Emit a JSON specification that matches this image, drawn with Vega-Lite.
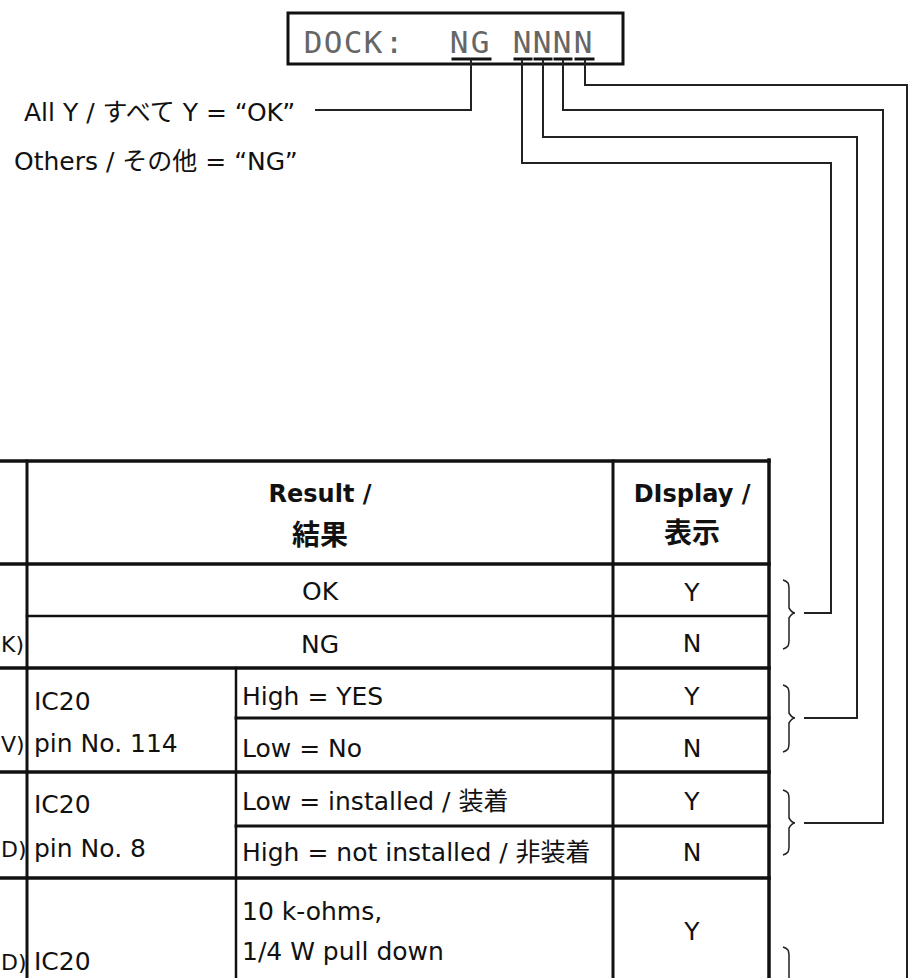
{
  "$schema": "https://vega.github.io/schema/vega-lite/v6.json",
  "width": 909,
  "height": 978,
  "autosize": "none",
  "padding": 0,
  "background": "white",
  "config": {"view": {"stroke": null}},
  "datasets": {
    "texts": [
      {"g": "top", "x": 24, "y": 121, "t": "All Y / すべて Y = “OK”"},
      {"g": "top", "x": 14, "y": 170, "t": "Others / その他 = “NG”"},
      {"g": "lcd", "x": 313, "y": 53, "t": "D"},
      {"g": "lcd", "x": 333, "y": 53, "t": "O"},
      {"g": "lcd", "x": 353, "y": 53, "t": "C"},
      {"g": "lcd", "x": 373, "y": 53, "t": "K"},
      {"g": "lcd", "x": 394, "y": 53, "t": ":"},
      {"g": "lcd", "x": 459, "y": 53, "t": "N"},
      {"g": "lcd", "x": 480, "y": 53, "t": "G"},
      {"g": "lcd", "x": 522, "y": 53, "t": "N"},
      {"g": "lcd", "x": 542, "y": 53, "t": "N"},
      {"g": "lcd", "x": 562, "y": 53, "t": "N"},
      {"g": "lcd", "x": 583, "y": 53, "t": "N"},
      {"g": "head", "x": 320, "y": 502, "t": "Result /"},
      {"g": "head", "x": 692, "y": 502, "t": "DIsplay /"},
      {"g": "headcjk", "x": 320, "y": 545, "t": "結果"},
      {"g": "headcjk", "x": 692, "y": 543, "t": "表示"},
      {"g": "center", "x": 320, "y": 600, "t": "OK"},
      {"g": "center", "x": 320, "y": 653, "t": "NG"},
      {"g": "center", "x": 692, "y": 601, "t": "Y"},
      {"g": "center", "x": 692, "y": 652, "t": "N"},
      {"g": "center", "x": 692, "y": 705, "t": "Y"},
      {"g": "center", "x": 692, "y": 757, "t": "N"},
      {"g": "center", "x": 692, "y": 810, "t": "Y"},
      {"g": "center", "x": 692, "y": 861, "t": "N"},
      {"g": "center", "x": 692, "y": 940, "t": "Y"},
      {"g": "left", "x": 34, "y": 710, "t": "IC20"},
      {"g": "left", "x": 34, "y": 752, "t": "pin No. 114"},
      {"g": "left", "x": 34, "y": 813, "t": "IC20"},
      {"g": "left", "x": 34, "y": 857, "t": "pin No. 8"},
      {"g": "left", "x": 34, "y": 970, "t": "IC20"},
      {"g": "left", "x": 242, "y": 705, "t": "High = YES"},
      {"g": "left", "x": 242, "y": 757, "t": "Low = No"},
      {"g": "left", "x": 242, "y": 810, "t": "Low = installed / 装着"},
      {"g": "left", "x": 242, "y": 861, "t": "High = not installed / 非装着"},
      {"g": "left", "x": 242, "y": 920, "t": "10 k-ohms,"},
      {"g": "left", "x": 242, "y": 960, "t": "1/4 W pull down"},
      {"g": "edge", "x": 1, "y": 652, "t": "K)"},
      {"g": "edge", "x": 1, "y": 752, "t": "V)"},
      {"g": "edge", "x": 1, "y": 857, "t": "D)"},
      {"g": "edge", "x": 1, "y": 970, "t": "D)"}
    ],
    "rules": [
      {"x": 0, "x2": 769, "y": 461, "y2": 461, "k": "thick"},
      {"x": 0, "x2": 769, "y": 564, "y2": 564, "k": "thick"},
      {"x": 27, "x2": 769, "y": 616, "y2": 616, "k": "thin"},
      {"x": 0, "x2": 769, "y": 668, "y2": 668, "k": "thick"},
      {"x": 236, "x2": 769, "y": 718, "y2": 718, "k": "medium"},
      {"x": 0, "x2": 769, "y": 772, "y2": 772, "k": "thick"},
      {"x": 236, "x2": 769, "y": 826, "y2": 826, "k": "medium"},
      {"x": 0, "x2": 769, "y": 878, "y2": 878, "k": "thick"},
      {"x": 27, "x2": 27, "y": 461, "y2": 978, "k": "medium"},
      {"x": 236, "x2": 236, "y": 668, "y2": 978, "k": "thin"},
      {"x": 613, "x2": 613, "y": 461, "y2": 978, "k": "medium"},
      {"x": 769, "x2": 769, "y": 460, "y2": 978, "k": "thick"},
      {"x": 453, "x2": 490, "y": 59, "y2": 59, "k": "medium"},
      {"x": 515, "x2": 531, "y": 59, "y2": 59, "k": "medium"},
      {"x": 535, "x2": 551, "y": 59, "y2": 59, "k": "medium"},
      {"x": 555, "x2": 571, "y": 59, "y2": 59, "k": "medium"},
      {"x": 576, "x2": 593, "y": 59, "y2": 59, "k": "medium"}
    ],
    "box": [{"x": 288, "x2": 623, "y": 13, "y2": 64}],
    "paths": [
      {"p": "NG", "i": 0, "x": 471, "y": 59},
      {"p": "NG", "i": 1, "x": 471, "y": 110},
      {"p": "NG", "i": 2, "x": 315, "y": 110},
      {"p": "N1", "i": 0, "x": 522, "y": 59},
      {"p": "N1", "i": 1, "x": 522, "y": 163},
      {"p": "N1", "i": 2, "x": 831, "y": 163},
      {"p": "N1", "i": 3, "x": 831, "y": 613},
      {"p": "N1", "i": 4, "x": 804, "y": 613},
      {"p": "N2", "i": 0, "x": 543, "y": 59},
      {"p": "N2", "i": 1, "x": 543, "y": 137},
      {"p": "N2", "i": 2, "x": 857, "y": 137},
      {"p": "N2", "i": 3, "x": 857, "y": 718},
      {"p": "N2", "i": 4, "x": 804, "y": 718},
      {"p": "N3", "i": 0, "x": 563, "y": 59},
      {"p": "N3", "i": 1, "x": 563, "y": 110},
      {"p": "N3", "i": 2, "x": 883, "y": 110},
      {"p": "N3", "i": 3, "x": 883, "y": 823},
      {"p": "N3", "i": 4, "x": 804, "y": 823},
      {"p": "N4", "i": 0, "x": 585, "y": 59},
      {"p": "N4", "i": 1, "x": 585, "y": 85},
      {"p": "N4", "i": 2, "x": 907, "y": 85},
      {"p": "N4", "i": 3, "x": 907, "y": 978}
    ],
    "braces": [
      {"p": "B1", "i": 0, "x": 783, "y": 580},
      {"p": "B1", "i": 1, "x": 788, "y": 583},
      {"p": "B1", "i": 2, "x": 789, "y": 588},
      {"p": "B1", "i": 3, "x": 789, "y": 608},
      {"p": "B1", "i": 4, "x": 795, "y": 613},
      {"p": "B1", "i": 5, "x": 789, "y": 618},
      {"p": "B1", "i": 6, "x": 789, "y": 641},
      {"p": "B1", "i": 7, "x": 788, "y": 646},
      {"p": "B1", "i": 8, "x": 783, "y": 649},
      {"p": "B2", "i": 0, "x": 783, "y": 685},
      {"p": "B2", "i": 1, "x": 788, "y": 688},
      {"p": "B2", "i": 2, "x": 789, "y": 693},
      {"p": "B2", "i": 3, "x": 789, "y": 713},
      {"p": "B2", "i": 4, "x": 795, "y": 718},
      {"p": "B2", "i": 5, "x": 789, "y": 723},
      {"p": "B2", "i": 6, "x": 789, "y": 744},
      {"p": "B2", "i": 7, "x": 788, "y": 749},
      {"p": "B2", "i": 8, "x": 783, "y": 752},
      {"p": "B3", "i": 0, "x": 783, "y": 790},
      {"p": "B3", "i": 1, "x": 788, "y": 793},
      {"p": "B3", "i": 2, "x": 789, "y": 798},
      {"p": "B3", "i": 3, "x": 789, "y": 818},
      {"p": "B3", "i": 4, "x": 795, "y": 823},
      {"p": "B3", "i": 5, "x": 789, "y": 828},
      {"p": "B3", "i": 6, "x": 789, "y": 847},
      {"p": "B3", "i": 7, "x": 788, "y": 852},
      {"p": "B3", "i": 8, "x": 783, "y": 855},
      {"p": "B4", "i": 0, "x": 783, "y": 947},
      {"p": "B4", "i": 1, "x": 788, "y": 950},
      {"p": "B4", "i": 2, "x": 789, "y": 955},
      {"p": "B4", "i": 3, "x": 789, "y": 978}
    ]
  },
  "layer": [
    {
      "data": {"name": "box"},
      "mark": {"type": "rect", "filled": false, "stroke": "#111", "strokeWidth": 3, "clip": true},
      "encoding": {
        "x": {"field": "x", "type": "quantitative", "scale": {"domain": [0, 909], "nice": false, "zero": false}, "axis": null},
        "x2": {"field": "x2"},
        "y": {"field": "y", "type": "quantitative", "scale": {"domain": [0, 978], "nice": false, "zero": false, "reverse": true}, "axis": null},
        "y2": {"field": "y2"}
      }
    },
    {
      "data": {"name": "rules"},
      "mark": {"type": "rule", "color": "#111", "clip": true, "strokeCap": "square"},
      "encoding": {
        "x": {"field": "x", "type": "quantitative", "scale": {"domain": [0, 909], "nice": false, "zero": false}, "axis": null},
        "x2": {"field": "x2"},
        "y": {"field": "y", "type": "quantitative", "scale": {"domain": [0, 978], "nice": false, "zero": false, "reverse": true}, "axis": null},
        "y2": {"field": "y2"},
        "strokeWidth": {"field": "k", "type": "nominal", "scale": {"domain": ["thick", "medium", "thin"], "range": [3.5, 2.5, 1.8]}, "legend": null}
      }
    },
    {
      "data": {"name": "paths"},
      "mark": {"type": "line", "color": "#222", "strokeWidth": 2, "clip": true, "strokeJoin": "miter"},
      "encoding": {
        "x": {"field": "x", "type": "quantitative", "scale": {"domain": [0, 909], "nice": false, "zero": false}, "axis": null},
        "y": {"field": "y", "type": "quantitative", "scale": {"domain": [0, 978], "nice": false, "zero": false, "reverse": true}, "axis": null},
        "detail": {"field": "p", "type": "nominal"},
        "order": {"field": "i", "type": "quantitative"}
      }
    },
    {
      "data": {"name": "braces"},
      "mark": {"type": "line", "color": "#222", "strokeWidth": 1.5, "clip": true, "interpolate": "monotone"},
      "encoding": {
        "x": {"field": "x", "type": "quantitative", "scale": {"domain": [0, 909], "nice": false, "zero": false}, "axis": null},
        "y": {"field": "y", "type": "quantitative", "scale": {"domain": [0, 978], "nice": false, "zero": false, "reverse": true}, "axis": null},
        "detail": {"field": "p", "type": "nominal"},
        "order": {"field": "i", "type": "quantitative"}
      }
    },
    {
      "data": {"name": "texts"},
      "transform": [{"filter": "datum.g === 'top' || datum.g === 'left'"}],
      "mark": {"type": "text", "align": "left", "baseline": "alphabetic", "font": "DejaVu Sans, Noto Sans CJK JP", "fontSize": 25, "color": "#111", "clip": true},
      "encoding": {
        "x": {"field": "x", "type": "quantitative", "scale": {"domain": [0, 909], "nice": false, "zero": false}, "axis": null},
        "y": {"field": "y", "type": "quantitative", "scale": {"domain": [0, 978], "nice": false, "zero": false, "reverse": true}, "axis": null},
        "text": {"field": "t"}
      }
    },
    {
      "data": {"name": "texts"},
      "transform": [{"filter": "datum.g === 'edge'"}],
      "mark": {"type": "text", "align": "left", "baseline": "alphabetic", "font": "DejaVu Sans", "fontSize": 22, "color": "#111"},
      "encoding": {
        "x": {"field": "x", "type": "quantitative", "scale": {"domain": [0, 909], "nice": false, "zero": false}, "axis": null},
        "y": {"field": "y", "type": "quantitative", "scale": {"domain": [0, 978], "nice": false, "zero": false, "reverse": true}, "axis": null},
        "text": {"field": "t"}
      }
    },
    {
      "data": {"name": "texts"},
      "transform": [{"filter": "datum.g === 'center'"}],
      "mark": {"type": "text", "align": "center", "baseline": "alphabetic", "font": "DejaVu Sans, Noto Sans CJK JP", "fontSize": 25, "color": "#111", "clip": true},
      "encoding": {
        "x": {"field": "x", "type": "quantitative", "scale": {"domain": [0, 909], "nice": false, "zero": false}, "axis": null},
        "y": {"field": "y", "type": "quantitative", "scale": {"domain": [0, 978], "nice": false, "zero": false, "reverse": true}, "axis": null},
        "text": {"field": "t"}
      }
    },
    {
      "data": {"name": "texts"},
      "transform": [{"filter": "datum.g === 'head'"}],
      "mark": {"type": "text", "align": "center", "baseline": "alphabetic", "font": "DejaVu Sans, Noto Sans CJK JP", "fontSize": 24, "fontWeight": "bold", "color": "#111", "clip": true},
      "encoding": {
        "x": {"field": "x", "type": "quantitative", "scale": {"domain": [0, 909], "nice": false, "zero": false}, "axis": null},
        "y": {"field": "y", "type": "quantitative", "scale": {"domain": [0, 978], "nice": false, "zero": false, "reverse": true}, "axis": null},
        "text": {"field": "t"}
      }
    },
    {
      "data": {"name": "texts"},
      "transform": [{"filter": "datum.g === 'headcjk'"}],
      "mark": {"type": "text", "align": "center", "baseline": "alphabetic", "font": "Noto Sans CJK JP", "fontSize": 28, "fontWeight": "bold", "color": "#111", "clip": true},
      "encoding": {
        "x": {"field": "x", "type": "quantitative", "scale": {"domain": [0, 909], "nice": false, "zero": false}, "axis": null},
        "y": {"field": "y", "type": "quantitative", "scale": {"domain": [0, 978], "nice": false, "zero": false, "reverse": true}, "axis": null},
        "text": {"field": "t"}
      }
    },
    {
      "data": {"name": "texts"},
      "transform": [{"filter": "datum.g === 'lcd'"}],
      "mark": {"type": "text", "align": "center", "baseline": "alphabetic", "font": "DejaVu Sans Mono", "fontSize": 31, "color": "#666", "clip": true},
      "encoding": {
        "x": {"field": "x", "type": "quantitative", "scale": {"domain": [0, 909], "nice": false, "zero": false}, "axis": null},
        "y": {"field": "y", "type": "quantitative", "scale": {"domain": [0, 978], "nice": false, "zero": false, "reverse": true}, "axis": null},
        "text": {"field": "t"}
      }
    }
  ]
}
